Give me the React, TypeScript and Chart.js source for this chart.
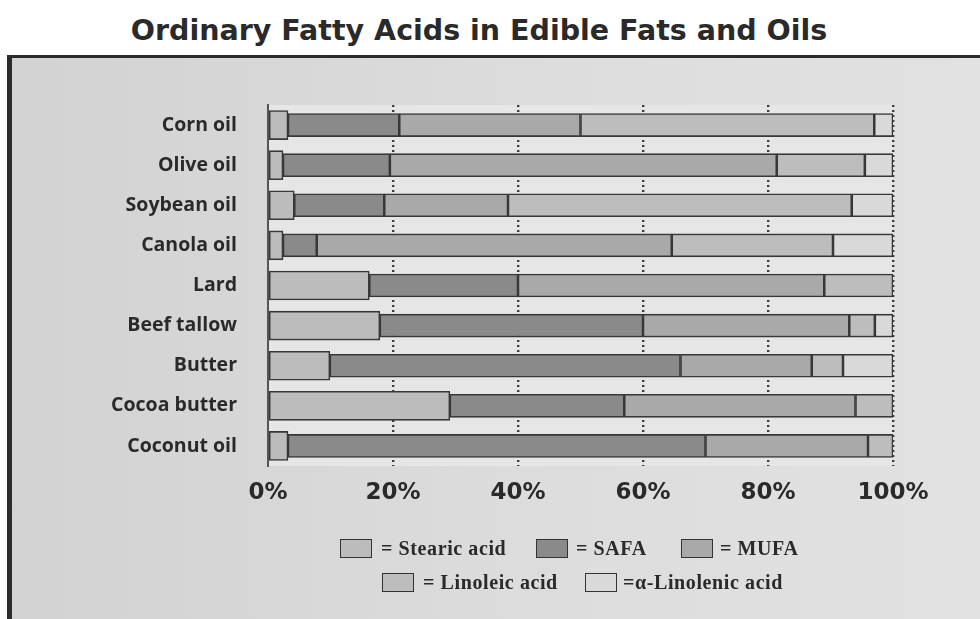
import React, { useEffect, useRef } from "react";
import { Chart, registerables } from "chart.js";

Chart.register(...registerables);

const categories = ["Corn oil", "Olive oil", "Soybean oil", "Canola oil", "Lard", "Beef tallow", "Butter", "Cocoa butter", "Coconut oil"];
const seriesNames = ["Stearic acid", "SAFA", "MUFA", "Linoleic acid", "α-Linolenic acid"];
const stearic = [3.2, 2.4, 4.2, 2.4, 16.2, 17.9, 9.9, 29.1, 3.2];
const safa = [17.8, 17.1, 14.4, 5.4, 23.8, 42.1, 56.1, 27.9, 66.8];
const mufa = [29, 61.9, 19.8, 56.8, 49, 33, 21, 37, 26];
const linoleic = [47, 14.1, 55, 25.8, 11, 4.1, 5, 6, 4];
const alphaLinolenic = [3, 4.5, 6.6, 9.6, 0, 2.9, 8, 0, 0];
const xTicks = [0, 20, 40, 60, 80, 100];

const colors = ["#bcbcbc", "#8a8a8a", "#a9a9aa", "#bdbdbd", "#d9d9d9"];
const legendLabels = ["= Stearic acid", "= SAFA", "= MUFA", "= Linoleic acid", "=α-Linolenic acid"];

export default function App() {
  const ref = useRef<HTMLCanvasElement | null>(null);

  useEffect(() => {
    if (!ref.current) return;
    const bgPlugin = {
      id: "areaBg",
      beforeDraw(chart: any) {
        const { ctx, chartArea } = chart;
        ctx.save();
        ctx.fillStyle = "#e6e6e6";
        ctx.fillRect(chartArea.left, chartArea.top, chartArea.right - chartArea.left, chartArea.bottom - chartArea.top);
        ctx.restore();
      },
    };
    const series = [stearic, safa, mufa, linoleic, alphaLinolenic];
    const chart = new Chart(ref.current, {
      type: "bar",
      data: {
        labels: categories,
        datasets: series.map((d, i) => ({
          label: seriesNames[i],
          data: d,
          backgroundColor: colors[i],
          borderColor: "#383838",
          borderWidth: 1.6,
          borderSkipped: false,
          barThickness: i === 0 ? 29 : 23,
        })),
      },
      options: {
        indexAxis: "y",
        animation: false,
        responsive: false,
        maintainAspectRatio: false,
        layout: { padding: { left: 0, right: 87, top: 105, bottom: 113 } },
        plugins: {
          legend: { display: false },
          title: { display: false },
          tooltip: { enabled: false },
        },
        scales: {
          x: {
            stacked: true,
            min: 0,
            max: 100,
            afterBuildTicks: (scale: any) => {
              scale.ticks = xTicks.map((v) => ({ value: v }));
            },
            afterFit: (scale: any) => {
              scale.height = 40;
            },
            ticks: {
              callback: (v: any) => v + "%",
              color: "#2a2a2a",
              padding: 13,
              font: { family: "DejaVu Sans", weight: "bold", size: 23 },
            },
            grid: {
              drawTicks: false,
              color: (c: any) => (c.index === 0 ? "rgba(0,0,0,0)" : "#3c3c3c"),
              lineWidth: 2.4,
            },
            border: { display: false, dash: [2, 3] },
          },
          y: {
            stacked: true,
            afterFit: (scale: any) => {
              scale.width = 268;
            },
            ticks: {
              color: "#2a2a2a",
              padding: 23,
              font: { family: "Open Sans", weight: "bold", size: 19.5 },
            },
            grid: { display: false },
            border: { display: true, color: "#555", width: 2 },
          },
        },
      },
      plugins: [bgPlugin],
    } as any);
    chart.update();
    return () => chart.destroy();
  }, []);

  const boxStyle = (c: string, left: number, top: number): React.CSSProperties => ({
    position: "absolute",
    left,
    top,
    width: 30,
    height: 17,
    background: c,
    border: "1.5px solid #333",
  });
  const textStyle = (left: number, top: number): React.CSSProperties => ({
    position: "absolute",
    left,
    top,
    fontFamily: "'Liberation Serif', serif",
    fontWeight: "bold",
    fontSize: 20,
    color: "#2a2a2a",
    whiteSpace: "nowrap",
    lineHeight: "20px",
    letterSpacing: "0.6px",
  });
  const legendPos = [
    { bx: 340, by: 539, tx: 381, ty: 538 },
    { bx: 536, by: 539, tx: 576, ty: 538 },
    { bx: 681, by: 539, tx: 720, ty: 538 },
    { bx: 382, by: 573, tx: 423, ty: 572 },
    { bx: 585, by: 573, tx: 623, ty: 572 },
  ];

  return (
    <div style={{ position: "fixed", left: 0, top: 0, width: 980, height: 619, background: "#ffffff", overflow: "hidden" }}>
      <div
        style={{
          position: "absolute",
          left: 0,
          width: 980,
          top: 14,
          textAlign: "center",
          fontFamily: "'DejaVu Sans', sans-serif",
          fontWeight: "bold",
          fontSize: 28.5,
          color: "#2a2a2a",
        }}
      >
        <span style={{ marginLeft: -22 }}>Ordinary Fatty Acids in Edible Fats and Oils</span>
      </div>
      <div
        style={{
          position: "absolute",
          left: 7,
          top: 55,
          width: 990,
          height: 600,
          borderLeft: "5px solid #2b2b2b",
          borderTop: "3px solid #2b2b2b",
          background: "linear-gradient(90deg, #d2d2d2 0%, #dcdcdc 50%, #e2e2e2 100%)",
        }}
      />
      <canvas ref={ref} width={980} height={619} style={{ position: "absolute", left: 0, top: 0 }} />
      {legendPos.map((p, i) => (
        <React.Fragment key={i}>
          <div style={boxStyle(colors[i], p.bx, p.by)} />
          <div style={textStyle(p.tx, p.ty)}>{legendLabels[i]}</div>
        </React.Fragment>
      ))}
    </div>
  );
}
